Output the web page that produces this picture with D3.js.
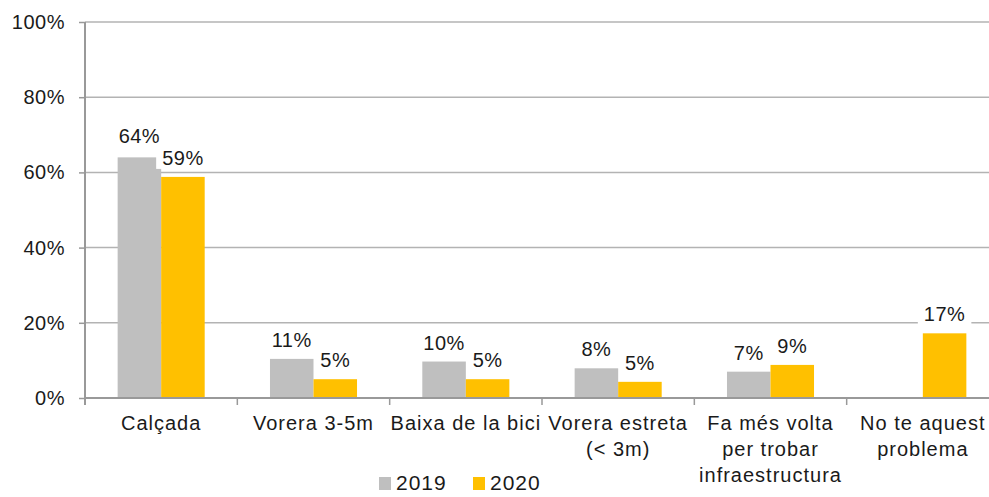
<!DOCTYPE html>
<html lang="ca">
  <head>
    <meta charset="utf-8">
    <style>
      body { margin: 0; background: #fff; }
      text { font-family: "Liberation Sans", Arial, sans-serif; fill: #1a1a1a; }
    </style>
    <script src="https://d3js.org/d3.v7.min.js"></script>
  </head>
  <body>
    <script>
      // data
      var categories = [
        ["Calçada"],
        ["Vorera 3-5m"],
        ["Baixa de la bici"],
        ["Vorera estreta", "(< 3m)"],
        ["Fa més volta", "per trobar", "infraestructura"],
        ["No te aquest", "problema"]
      ];
      var series = ["2019", "2020"];
      var values2019 = [64, 10.4, 9.7, 7.9, 7, null];
      var values2020 = [58.8, 5, 5, 4.3, 8.8, 17.2];
      var labels2019 = ["64%", "11%", "10%", "8%", "7%", null];
      var labels2020 = ["59%", "5%", "5%", "5%", "9%", "17%"];
      var yTicks = [0, 20, 40, 60, 80, 100];
      var colors = { "2019": "#bfbfbf", "2020": "#ffc000" };

      var width = 989, height = 497;
      var plotLeft = 85, plotRight = 999, plotTop = 22, plotBottom = 398;

      var svg = d3.select("body").append("svg")
        .attr("width", width)
        .attr("height", height);

      var x = d3.scaleBand()
        .domain(d3.range(categories.length))
        .range([plotLeft, plotRight])
        .padding(0);
      var xs = d3.scaleBand()
        .domain(series)
        .range([0, x.bandwidth()])
        .paddingInner(0)
        .paddingOuter(0.75);
      var y = d3.scaleLinear().domain([0, 100]).range([plotBottom, plotTop]);

      // gridlines
      svg.append("g").selectAll("line")
        .data(yTicks.filter(function (d) { return d > 0; }))
        .join("line")
        .attr("x1", plotLeft).attr("x2", plotRight)
        .attr("y1", function (d) { return y(d); })
        .attr("y2", function (d) { return y(d); })
        .attr("stroke", "#b3b3b3")
        .attr("stroke-width", 1.5);

      // bars
      var rows = categories.map(function (c, i) {
        return [
          { i: i, s: "2019", v: values2019[i], label: labels2019[i] },
          { i: i, s: "2020", v: values2020[i], label: labels2020[i] }
        ];
      });
      var items = [].concat.apply([], rows).filter(function (d) { return d.v != null; });

      svg.append("g").selectAll("rect")
        .data(items)
        .join("rect")
        .attr("x", function (d) { return x(d.i) + xs(d.s); })
        .attr("width", xs.bandwidth())
        .attr("y", function (d) { return y(d.v); })
        .attr("height", function (d) { return y(0) - y(d.v); })
        .attr("fill", function (d) { return colors[d.s]; });

      // axes
      var yAxis = svg.append("g")
        .attr("transform", "translate(" + plotLeft + ",0)")
        .call(d3.axisLeft(y).tickValues(yTicks).tickSize(6).tickPadding(14)
          .tickFormat(function (d) { return d + "%"; }));
      yAxis.select(".domain").remove();
      yAxis.selectAll(".tick line").attr("stroke", "#999").attr("stroke-width", 1.5);
      yAxis.selectAll("text")
        .style("font-size", "20px")
        .style("letter-spacing", "0.5px")
        .attr("fill", "#1a1a1a");

      svg.append("line")
        .attr("x1", plotLeft).attr("x2", plotLeft)
        .attr("y1", plotTop).attr("y2", plotBottom + 7)
        .attr("stroke", "#999").attr("stroke-width", 2);
      svg.append("line")
        .attr("x1", plotLeft).attr("x2", plotRight)
        .attr("y1", plotBottom).attr("y2", plotBottom)
        .attr("stroke", "#999").attr("stroke-width", 2);
      svg.append("g").selectAll("line")
        .data(d3.range(1, categories.length))
        .join("line")
        .attr("x1", function (d) { return x(d); })
        .attr("x2", function (d) { return x(d); })
        .attr("y1", plotBottom).attr("y2", plotBottom + 7)
        .attr("stroke", "#999").attr("stroke-width", 1.5);

      // category labels
      var cat = svg.append("g").selectAll("text")
        .data(categories)
        .join("text")
        .attr("text-anchor", "middle")
        .style("font-size", "20px")
        .style("letter-spacing", "1px");
      cat.selectAll("tspan")
        .data(function (d, i) { return d.map(function (t) { return { t: t, i: i }; }); })
        .join("tspan")
        .attr("x", function (d) { return x(d.i) + x.bandwidth() / 2; })
        .attr("y", function (d, j) { return plotBottom + 32 + j * 26; })
        .text(function (d) { return d.t; });

      // value labels with white backing
      var lab = svg.append("g").selectAll("g")
        .data(items)
        .join("g");
      lab.append("rect").attr("fill", "#fff");
      lab.append("text")
        .attr("text-anchor", "middle")
        .attr("x", function (d) { return x(d.i) + xs(d.s) + xs.bandwidth() / 2; })
        .attr("y", function (d) { return y(d.v) - (d.v > 60 ? 14 : 12); })
        .style("font-size", "20px")
        .style("letter-spacing", "0.5px")
        .text(function (d) { return d.label; });
      lab.each(function () {
        var g = d3.select(this);
        var b = g.select("text").node().getBBox();
        g.select("rect")
          .attr("x", b.x - 6).attr("y", b.y)
          .attr("width", b.width + 12).attr("height", b.height);
      });

      // legend
      var leg = svg.append("g").attr("transform", "translate(379,0)");
      series.forEach(function (s, k) {
        var ox = k * 94;
        leg.append("rect")
          .attr("x", ox).attr("y", 477)
          .attr("width", 12).attr("height", 13)
          .attr("fill", colors[s]);
        leg.append("text")
          .attr("x", ox + 17).attr("y", 490)
          .style("font-size", "21px")
          .style("letter-spacing", "1px")
          .text(s);
      });
    </script>
  </body>
</html>
